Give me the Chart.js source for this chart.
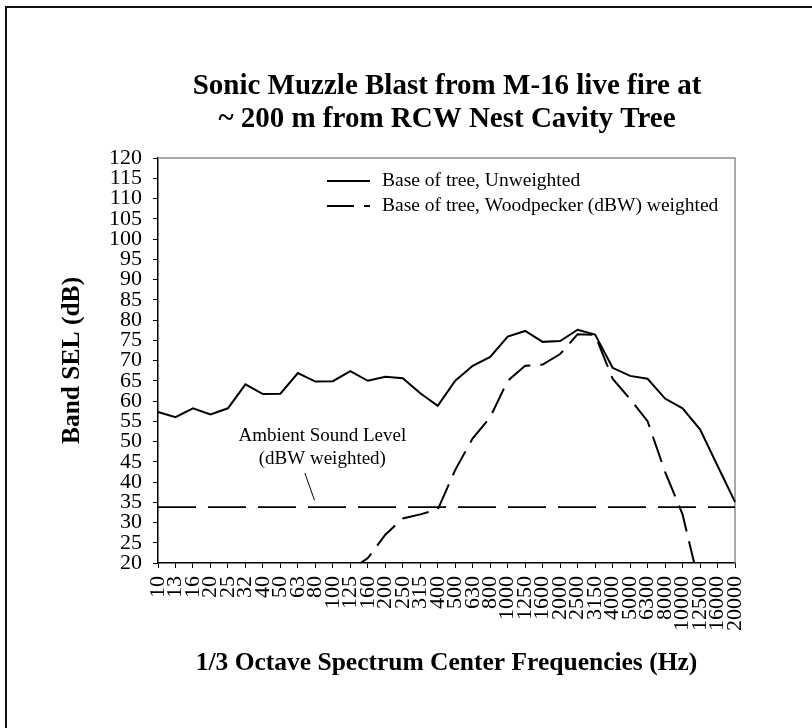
<!DOCTYPE html>
<html>
<head>
<meta charset="utf-8">
<script src="https://cdn.jsdelivr.net/npm/chart.js@4.4.1/dist/chart.umd.min.js"></script>
<style>
  html, body { margin: 0; padding: 0; background: #fff; }
  #wrap { width: 812px; height: 728px; position: relative; }
</style>
</head>
<body>
<div id="wrap"><canvas id="chart" width="812" height="728"></canvas></div>
<script>
// 1/3 octave band centre frequencies (Hz), as printed on the axis
const FREQUENCIES = [
  '10', '13', '16', '20', '25', '32', '40', '50', '63', '80',
  '100', '125', '160', '200', '250', '315', '400', '500', '630', '800',
  '1000', '1250', '1600', '2000', '2500', '3150', '4000', '5000', '6300', '8000',
  '10000', '12500', '16000', '20000',
];

// Band SEL (dB)
const UNWEIGHTED = [
  57.3, 56.0, 58.2, 56.7, 58.2, 64.1, 61.7, 61.8, 66.9, 64.8,
  64.9, 67.4, 65.0, 66.0, 65.6, 61.9, 58.8, 65.0, 68.7, 70.9,
  75.9, 77.3, 74.6, 74.8, 77.6, 76.4, 68.2, 66.2, 65.5, 60.6,
  58.2, 53.0, 44.0, 35.1,
];
const WOODPECKER = [
  null, null, null, null, null, null, null, null, null, null,
  null, 18.2, 21.2, 27.0, 31.0, 32.0, 33.2, 43.0, 50.8, 56.0,
  65.0, 68.7, 69.0, 71.6, 76.5, 76.3, 65.5, 60.5, 55.0, 42.5,
  32.0, 14.0, null, null,
];
const AMBIENT_LEVEL = 33.8;
const AMBIENT = FREQUENCIES.map(() => AMBIENT_LEVEL);

const Y_MIN = 20;
const Y_MAX = 120;
const Y_STEP = 5;

const TITLE_LINES = ['Sonic Muzzle Blast from M-16 live fire at', '~ 200 m from RCW Nest Cavity Tree'];
const LEGEND_LABELS = ['Base of tree, Unweighted', 'Base of tree, Woodpecker (dBW) weighted'];
const AMBIENT_NOTE = ['Ambient Sound Level', '(dBW weighted)'];

const SERIF = '"Liberation Serif", "Times New Roman", serif';

// page frame, chart title, grey plot frame, legend and ambient note
const decorations = {
  id: 'decorations',
  beforeDatasetsDraw(chart) {
    const { ctx, chartArea: a } = chart;
    ctx.save();
    ctx.strokeStyle = '#8c8c8c';
    ctx.lineWidth = 1.5;
    ctx.beginPath();
    ctx.moveTo(a.left, a.top);
    ctx.lineTo(a.right, a.top);
    ctx.lineTo(a.right, a.bottom);
    ctx.stroke();
    ctx.restore();
  },
  afterDraw(chart) {
    const { ctx, chartArea: a, scales } = chart;
    ctx.save();
    // outer frame
    ctx.fillStyle = '#111';
    ctx.fillRect(5, 6, 2, 722);
    ctx.fillRect(5, 6, 807, 2);

    // title
    ctx.fillStyle = '#000';
    ctx.textAlign = 'center';
    ctx.textBaseline = 'middle';
    ctx.font = 'bold 29px ' + SERIF;
    TITLE_LINES.forEach((t, i) => ctx.fillText(t, 447, 87 + i * 33));

    // legend
    const ds = chart.data.datasets;
    ctx.font = '19.5px ' + SERIF;
    ctx.textAlign = 'left';
    LEGEND_LABELS.forEach((t, i) => {
      const y = a.top + 23 + i * 25;
      ctx.strokeStyle = '#000';
      ctx.lineWidth = 2;
      ctx.setLineDash(ds[i].borderDash || []);
      ctx.beginPath();
      ctx.moveTo(a.left + 169, y);
      ctx.lineTo(a.left + 212, y);
      ctx.stroke();
      ctx.setLineDash([]);
      ctx.fillText(t, a.left + 224, y);
    });

    // ambient note with leader line
    const x = scales.x, yS = scales.y;
    const cx = x.getPixelForValue(9.4);
    ctx.font = '19px ' + SERIF;
    ctx.textAlign = 'center';
    AMBIENT_NOTE.forEach((t, i) => ctx.fillText(t, cx, yS.getPixelForValue(51.3) + i * 23));
    ctx.lineWidth = 1;
    ctx.beginPath();
    ctx.moveTo(x.getPixelForValue(8.4), yS.getPixelForValue(42.2));
    ctx.lineTo(x.getPixelForValue(8.95), yS.getPixelForValue(35.5));
    ctx.stroke();
    ctx.restore();
  },
};

new Chart(document.getElementById('chart'), {
  type: 'line',
  data: {
    labels: FREQUENCIES,
    datasets: [
      { label: LEGEND_LABELS[0], data: UNWEIGHTED, borderColor: '#000', borderWidth: 2 },
      { label: LEGEND_LABELS[1], data: WOODPECKER, borderColor: '#000', borderWidth: 2, borderDash: [27, 10] },
      { label: 'Ambient', data: AMBIENT, borderColor: '#000', borderWidth: 1.6, borderDash: [38, 12] },
    ],
  },
  options: {
    responsive: false,
    animation: false,
    devicePixelRatio: 1,
    layout: { padding: { left: 0, right: 77, top: 158, bottom: 0 } },
    elements: {
      point: { radius: 0, hoverRadius: 0 },
      line: { tension: 0, fill: false, borderCapStyle: 'butt', borderJoinStyle: 'miter' },
    },
    plugins: {
      legend: { display: false },
      title: { display: false },
      tooltip: { enabled: false },
    },
    scales: {
      x: {
        type: 'category',
        offset: false,
        afterFit(s) { s.height = 165; },
        grid: { drawOnChartArea: false, drawTicks: true, tickLength: 5, color: '#000', offset: false },
        border: { color: '#000', width: 1.5 },
        ticks: {
          autoSkip: false, minRotation: 90, maxRotation: 90, padding: 8,
          color: '#000', font: { family: SERIF, size: 22 },
        },
        title: {
          display: true, text: '1/3 Octave Spectrum Center Frequencies (Hz)', color: '#000',
          font: { family: SERIF, size: 25.5, weight: 'bold' }, padding: { top: 0, bottom: 49 },
        },
      },
      y: {
        min: Y_MIN, max: Y_MAX,
        afterFit(s) { s.width = 158; },
        grid: { drawOnChartArea: false, drawTicks: true, tickLength: 5, color: '#000' },
        border: { color: '#000', width: 1.5 },
        ticks: {
          stepSize: Y_STEP, autoSkip: false, padding: 11, color: '#000',
          font: { family: SERIF, size: 22 },
        },
        title: {
          display: true, text: 'Band SEL (dB)', color: '#000',
          font: { family: SERIF, size: 25.5, weight: 'bold' }, padding: { top: 57, bottom: 0 },
        },
      },
    },
  },
  plugins: [decorations],
});
</script>
</body>
</html>
